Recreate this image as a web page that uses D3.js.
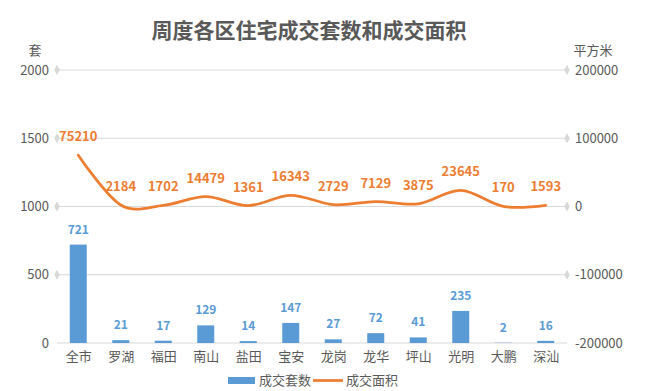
<!DOCTYPE html>
<html><head><meta charset="utf-8">
<script src="https://cdn.jsdelivr.net/npm/d3@7/dist/d3.min.js"></script>
<style>
html,body{margin:0;padding:0;background:#fff;}
svg{display:block;font-family:"Noto Sans CJK SC","Noto Sans",sans-serif;}
</style></head>
<body><svg id="c" width="648" height="391"></svg>
<script>
const title = "周度各区住宅成交套数和成交面积";
const categories = ["全市","罗湖","福田","南山","盐田","宝安","龙岗","龙华","坪山","光明","大鹏","深汕"];
const units = [721,21,17,129,14,147,27,72,41,235,2,16];
const areas = [75210,2184,1702,14479,1361,16343,2729,7129,3875,23645,170,1593];
const leftTicks = [0,500,1000,1500,2000];
const rightTicks = [-200000,-100000,0,100000,200000];
const seriesNames = ["成交套数","成交面积"];
const leftUnit = "套", rightUnit = "平方米";

const blue = "#5B9BD5", orange = "#ED7D31", txt = "#595959", grid = "#D9D9D9";
const svg = d3.select("#c");
const L = 57, R = 567, T = 70, B = 343;

const x = d3.scaleBand().domain(categories).range([L, R]).paddingInner(0.6).paddingOuter(0.3);
const xc = d3.scalePoint().domain(categories).range([L, R]).padding(0.5);
const yL = d3.scaleLinear().domain([0, 2000]).range([B, T]);
const yR = d3.scaleLinear().domain([-200000, 200000]).range([B, T]);

// title
svg.append("text").attr("x", 309).attr("y", 38).attr("text-anchor", "middle")
  .attr("font-size", 21).attr("font-weight", "bold").attr("fill", txt).text(title);

// gridlines
svg.append("g").selectAll("line").data(leftTicks).join("line")
  .attr("x1", L).attr("x2", R).attr("y1", d => yL(d)).attr("y2", d => yL(d))
  .attr("stroke", grid).attr("stroke-width", 1);

// diamonds at gridline ends (non-zero)
const dia = d3.symbol().type(d3.symbolDiamond).size(28);
svg.append("g").selectAll("path").data(leftTicks.filter(d => d > 0)).join("path")
  .attr("d", dia).attr("transform", d => `translate(${L},${yL(d)})`).attr("fill", grid);
svg.append("g").selectAll("path").data(rightTicks.filter(d => d > -200000)).join("path")
  .attr("d", dia).attr("transform", d => `translate(${R},${yR(d)})`).attr("fill", grid);

// axes (text only)
const gl = svg.append("g").attr("transform", `translate(${L - 8},0)`)
  .call(d3.axisLeft(yL).tickValues(leftTicks).tickSize(0).tickPadding(0).tickFormat(d3.format("d")));
gl.select(".domain").remove();
gl.selectAll("text").attr("font-size", 13).attr("fill", txt).attr("font-family", "Noto Sans CJK SC");

const gr = svg.append("g").attr("transform", `translate(${R + 8},0)`)
  .call(d3.axisRight(yR).tickValues(rightTicks).tickSize(0).tickPadding(0).tickFormat(d => d < 0 ? "-" + Math.abs(d) : String(d)));
gr.select(".domain").remove();
gr.selectAll("text").attr("font-size", 13).attr("fill", txt).attr("font-family", "Noto Sans CJK SC");

const gx = svg.append("g").attr("transform", `translate(0,${B})`)
  .call(d3.axisBottom(xc).tickSize(0).tickPadding(9));
gx.select(".domain").remove();
gx.selectAll("text").attr("font-size", 13).attr("fill", txt).attr("font-family", "Noto Sans CJK SC");

// axis unit labels
svg.append("text").attr("x", 35).attr("y", 55).attr("text-anchor", "middle")
  .attr("font-size", 13).attr("fill", txt).text(leftUnit);
svg.append("text").attr("x", 593).attr("y", 55).attr("text-anchor", "middle")
  .attr("font-size", 13).attr("fill", txt).text(rightUnit);

// bars
svg.append("g").selectAll("rect").data(units).join("rect")
  .attr("x", (d, i) => x(categories[i])).attr("width", x.bandwidth())
  .attr("y", d => yL(d)).attr("height", d => yL(0) - yL(d)).attr("fill", blue);

svg.append("g").selectAll("text").data(units).join("text")
  .attr("x", (d, i) => xc(categories[i])).attr("y", d => yL(d) - 11)
  .attr("text-anchor", "middle").attr("font-size", 12).attr("font-weight", "bold")
  .attr("fill", blue).text(d => d);

// line
const line = d3.line().x((d, i) => xc(categories[i])).y(d => yR(d)).curve(d3.curveCardinal.tension(0));
svg.append("path").datum(areas).attr("d", line).attr("fill", "none")
  .attr("stroke", orange).attr("stroke-width", 2.75).attr("stroke-linecap", "round");

svg.append("g").selectAll("text").data(areas).join("text")
  .attr("x", (d, i) => xc(categories[i])).attr("y", d => yR(d) - 14)
  .attr("text-anchor", "middle").attr("font-size", 13).attr("font-weight", "bold")
  .attr("fill", orange).text(d => d);

// legend
const lg = svg.append("g");
lg.append("rect").attr("x", 228).attr("y", 377).attr("width", 27).attr("height", 7).attr("fill", blue);
lg.append("text").attr("x", 259).attr("y", 385).attr("font-size", 13).attr("fill", txt).text(seriesNames[0]);
lg.append("line").attr("x1", 313).attr("x2", 343).attr("y1", 380.5).attr("y2", 380.5)
  .attr("stroke", orange).attr("stroke-width", 2.75);
lg.append("text").attr("x", 346).attr("y", 385).attr("font-size", 13).attr("fill", txt).text(seriesNames[1]);
</script></body></html>
